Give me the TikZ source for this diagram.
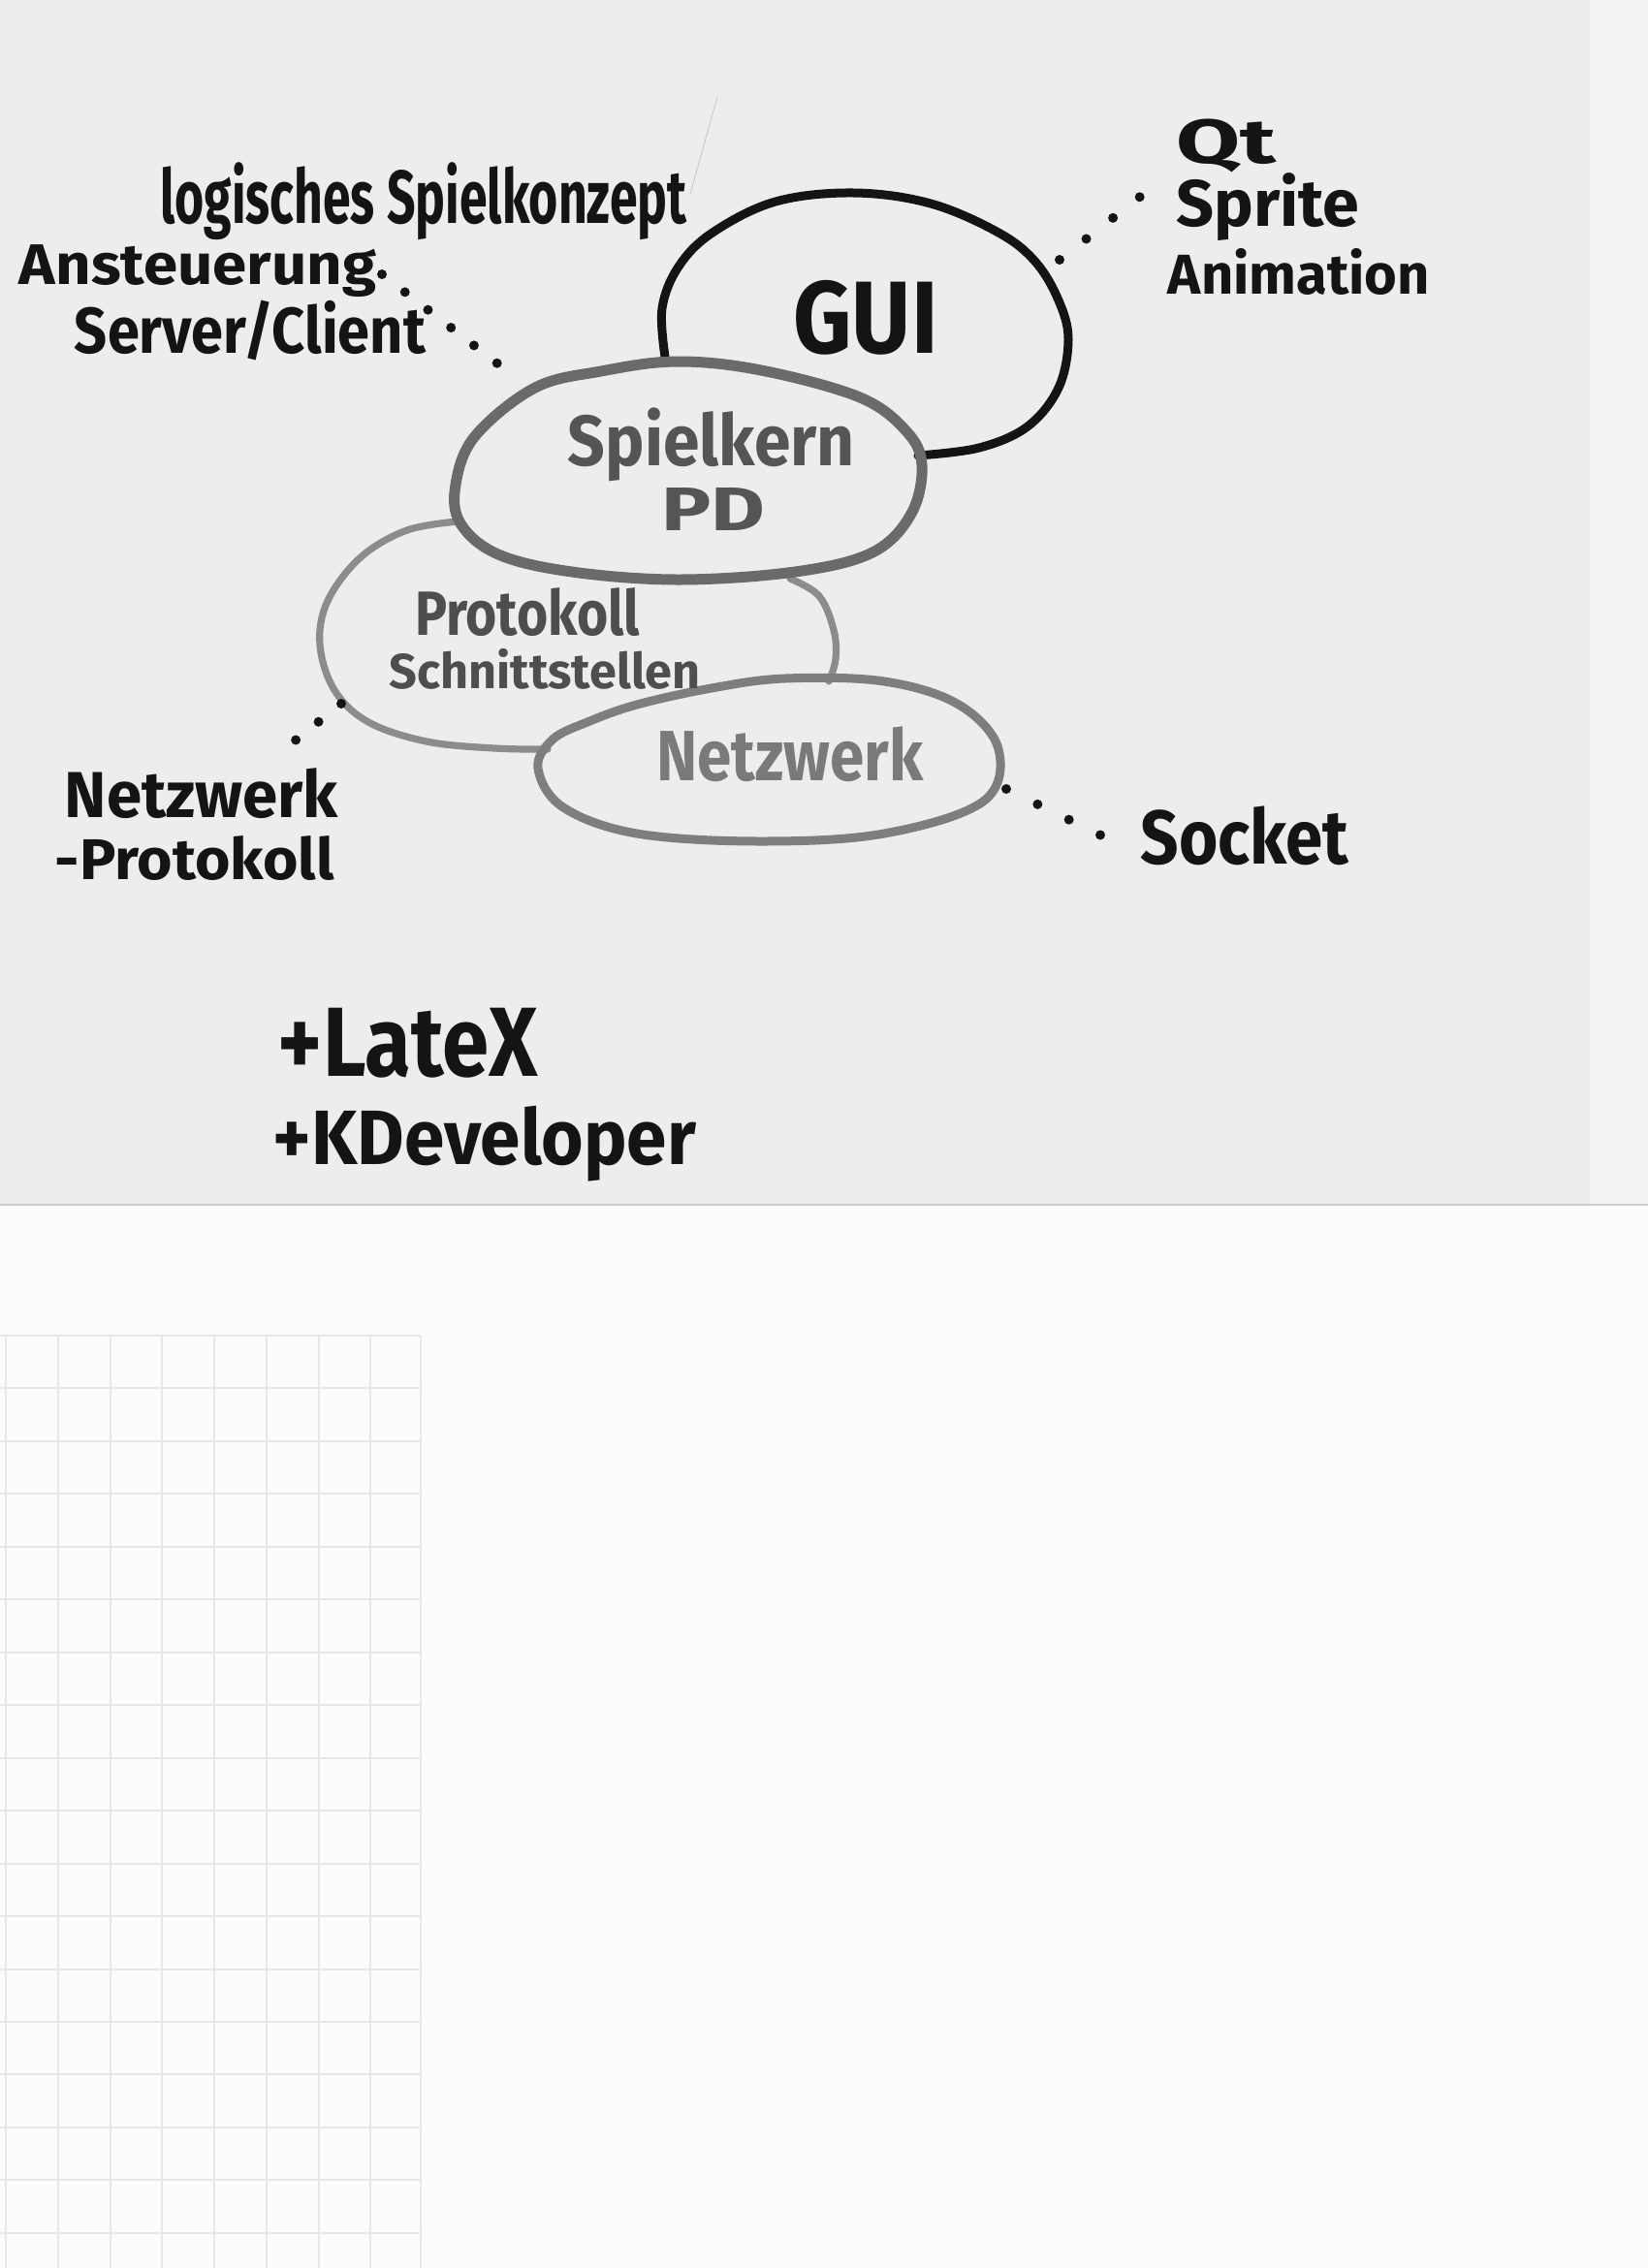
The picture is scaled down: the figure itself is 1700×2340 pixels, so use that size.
\documentclass[tikz,border=0pt]{standalone}
\usepackage{graphicx}
\usepackage{fontspec}
\setmainfont{Fira Sans}
\newcommand\hwt[3]{\resizebox*{#1pt}{#2pt}{\bfseries #3}}
\definecolor{paper}{HTML}{EDEDED}
\definecolor{paperR}{HTML}{F3F3F3}
\definecolor{sheet}{HTML}{FCFCFC}
\definecolor{gridc}{HTML}{E4E8EC}
\definecolor{ink}{HTML}{141414}
\definecolor{gcore}{HTML}{6A6A6A}
\definecolor{gcoretxt}{HTML}{555555}
\definecolor{gprot}{HTML}{8C8C8C}
\definecolor{gprottxt}{HTML}{4E4E4E}
\definecolor{gnet}{HTML}{7E7E7E}
\definecolor{gnettxt}{HTML}{7A7A7A}
\begin{document}
\begin{tikzpicture}[x=0.5pt,y=-0.5pt,
  txt/.style={inner sep=0pt,anchor=center,text=ink},
  dotline/.style={draw=ink,line width=5pt,line cap=round,dash pattern=on 0pt off #1},
  guiline/.style={draw=ink,line width=4.5pt,line cap=round,line join=round},
  coreline/.style={draw=gcore,line width=5.5pt,line join=round},
  protline/.style={draw=gprot,line width=3.6pt,line cap=round},
  netline/.style={draw=gnet,line width=4.5pt}]
\useasboundingbox (0,0) rectangle (1700,2340);
% backgrounds
\fill[sheet] (0,0) rectangle (1700,2340);
\fill[paper] (0,0) rectangle (1640,1243);
\fill[paperR] (1640,0) rectangle (1700,1243);
\draw[gray!40,line width=1pt] (0,1243) -- (1700,1243);
% faint grid lower left
\foreach \gx in {6,60,114,167,221,275,329,382,434}
  \draw[gridc,line width=0.8pt] (\gx,1378) -- (\gx,2340);
\foreach \gy in {1378,1432,1487,1541,1596,1650,1705,1759,1814,1868,1923,1977,2032,2086,2140,2195,2249,2304}
  \draw[gridc,line width=0.8pt] (0,\gy) -- (434,\gy);
% stray hairline
\draw[gray!45,line width=0.4pt] (740,100) -- (712,200);

% ellipses
\draw[guiline] plot[smooth,tension=0.6] coordinates {(686,368) (683,318) (700,275) (735,240) (800,208) (881,199) (960,210) (1030,240) (1068,270) (1092,310) (1102,350) (1092,400) (1060,440) (1010,462) (947,470)};
\draw[protline] plot[smooth,tension=0.6] coordinates {(473,538) (420,547) (372,575) (338,620) (330,665) (345,712) (380,745) (440,765) (510,772) (565,773)};
\draw[protline] plot[smooth,tension=0.6] coordinates {(815,597) (845,615) (860,650) (862,680) (855,703)};
\draw[coreline] plot[smooth cycle,tension=0.6] coordinates {(698,373) (785,382) (887,410) (935,445) (951,480) (940,530) (900,570) (820,590) (700,598) (590,590) (514,572) (475,540) (470,500) (490,450) (552,400) (620,383)};
\draw[netline] plot[smooth cycle,tension=0.6] coordinates {(570,763) (606,745) (657,727) (734,710) (810,700) (912,703) (989,727) (1030,773) (1014,827) (912,860) (785,868) (657,860) (581,833) (555,793)};

% texts
\node[txt] (logik) at (437,208) {\hwt{271.5}{40}{logisches Spielkonzept}};
\node[txt] (anst) at (204,280) {\hwt{184}{27}{Ansteuerung}};
\node[txt] (client) at (258,341) {\hwt{181}{31}{Server/Client}};
\node[txt] (gui) at (893,328) {\hwt{74.5}{38.5}{GUI}};
\node[txt] (qt) at (1265,150) {\hwt{51.5}{27.5}{Qt}};
\node[txt] (sprite) at (1308,214) {\hwt{94.5}{35}{Sprite}};
\node[txt] (anim) at (1340,280) {\hwt{135}{24}{Animation}};
\node[txt,text=gcoretxt] (kern) at (734,459) {\hwt{148}{38}{Spielkern}};
\node[txt,text=gcoretxt] (pd) at (736,525) {\hwt{53.5}{22}{PD}};
\node[txt,text=gprottxt] (prot) at (544,632) {\hwt{116}{25}{Protokoll}};
\node[txt,text=gprottxt] (schn) at (562,690) {\hwt{160.5}{21}{Schnittstellen}};
\node[txt,text=gnettxt] (netz) at (815,778) {\hwt{137.5}{28.5}{Netzwerk}};
\node[txt] (socket) at (1284,862) {\hwt{107.5}{30.5}{Socket}};
\node[txt] (nw) at (208,819) {\hwt{141}{26}{Netzwerk}};
\node[txt] (nwp) at (201,885) {\hwt{144}{23}{-Protokoll}};
\node[txt] (latex) at (421,1076) {\hwt{134}{36}{+LateX}};
\node[txt] (kdev) at (500,1180) {\hwt{218}{39}{+KDeveloper}};

% dotted connectors
\coordinate (a1) at (394,283);
\coordinate (a2) at (526,385);
\coordinate (g1) at (1093,268);
\coordinate (g2) at (1176,203);
\coordinate (p1) at (352,726);
\coordinate (p2) at (282,782);
\coordinate (n1) at (1038,814);
\coordinate (n2) at (1136,862);
\draw[dotline=15pt] (a1) -- (a2);
\draw[dotline=17.5pt] (g1) -- (g2);
\draw[dotline=15pt] (p1) -- (p2);
\draw[dotline=18pt] (n1) -- (n2);
\end{tikzpicture}
\end{document}
